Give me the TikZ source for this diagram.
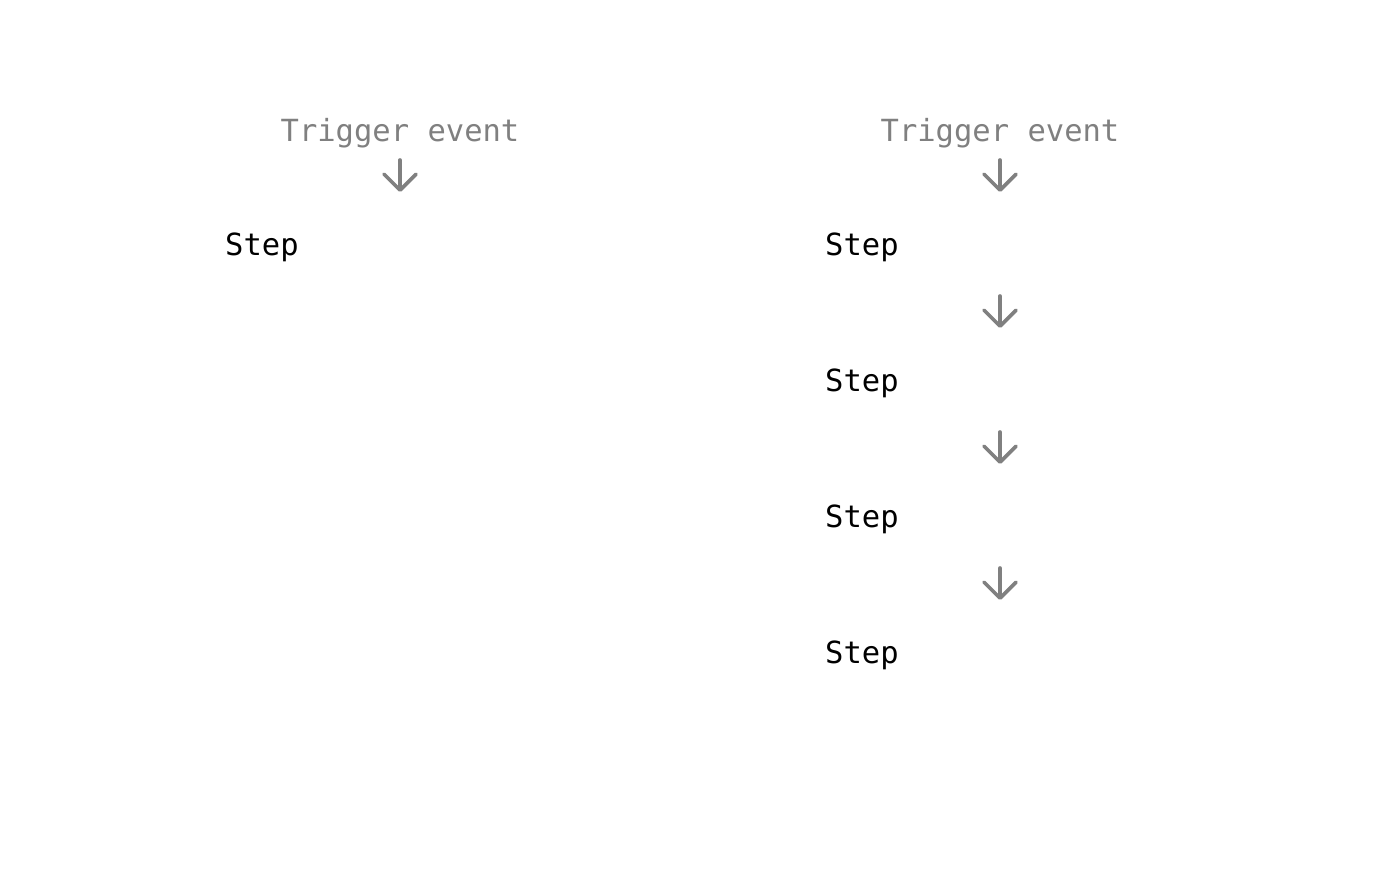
\documentclass[tikz,border=0pt]{standalone}
\usepackage{fontspec}
\setmonofont{DejaVu Sans Mono}
\usepackage{xcolor}
\usetikzlibrary{arrows.meta}

\definecolor{flowgray}{HTML}{808080}

\begin{document}
\begin{tikzpicture}[x=1pt,y=-1pt,
                    flow arrow/.style={-{Straight Barb[length=16pt,width=32pt,round]},
                      line width=3.6pt,draw=flowgray,line cap=round},
                    trigger node/.style={inner sep=0pt,anchor=base,text=flowgray,
                      font=\ttfamily\fontsize{30.5}{36}\selectfont},
                    step node/.style={inner sep=0pt,anchor=base west,text=black,
                      font=\ttfamily\fontsize{30.5}{36}\selectfont}]

  \useasboundingbox (0,0) rectangle (1400,896);

  % left: one step
  \node[trigger node] (trigL) at (400,142) {Trigger event};
  \node[step node] (stepL) at (225,255) {Step};
  \coordinate (aL1) at (400,160);
  \coordinate (aL2) at (400,192);

  % right: four steps
  \node[trigger node] (trigR) at (1000,142) {Trigger event};
  \node[step node] (stepR1) at (825,255) {Step};
  \node[step node] (stepR2) at (825,391) {Step};
  \node[step node] (stepR3) at (825,527) {Step};
  \node[step node] (stepR4) at (825,663) {Step};
  \coordinate (aR1) at (1000,160);
  \coordinate (aR2) at (1000,192);
  \coordinate (aR3) at (1000,296);
  \coordinate (aR4) at (1000,328);
  \coordinate (aR5) at (1000,432);
  \coordinate (aR6) at (1000,464);
  \coordinate (aR7) at (1000,568);
  \coordinate (aR8) at (1000,600);

  \draw[flow arrow] (aL1) -- (aL2);
  \draw[flow arrow] (aR1) -- (aR2);
  \draw[flow arrow] (aR3) -- (aR4);
  \draw[flow arrow] (aR5) -- (aR6);
  \draw[flow arrow] (aR7) -- (aR8);
\end{tikzpicture}
\end{document}
